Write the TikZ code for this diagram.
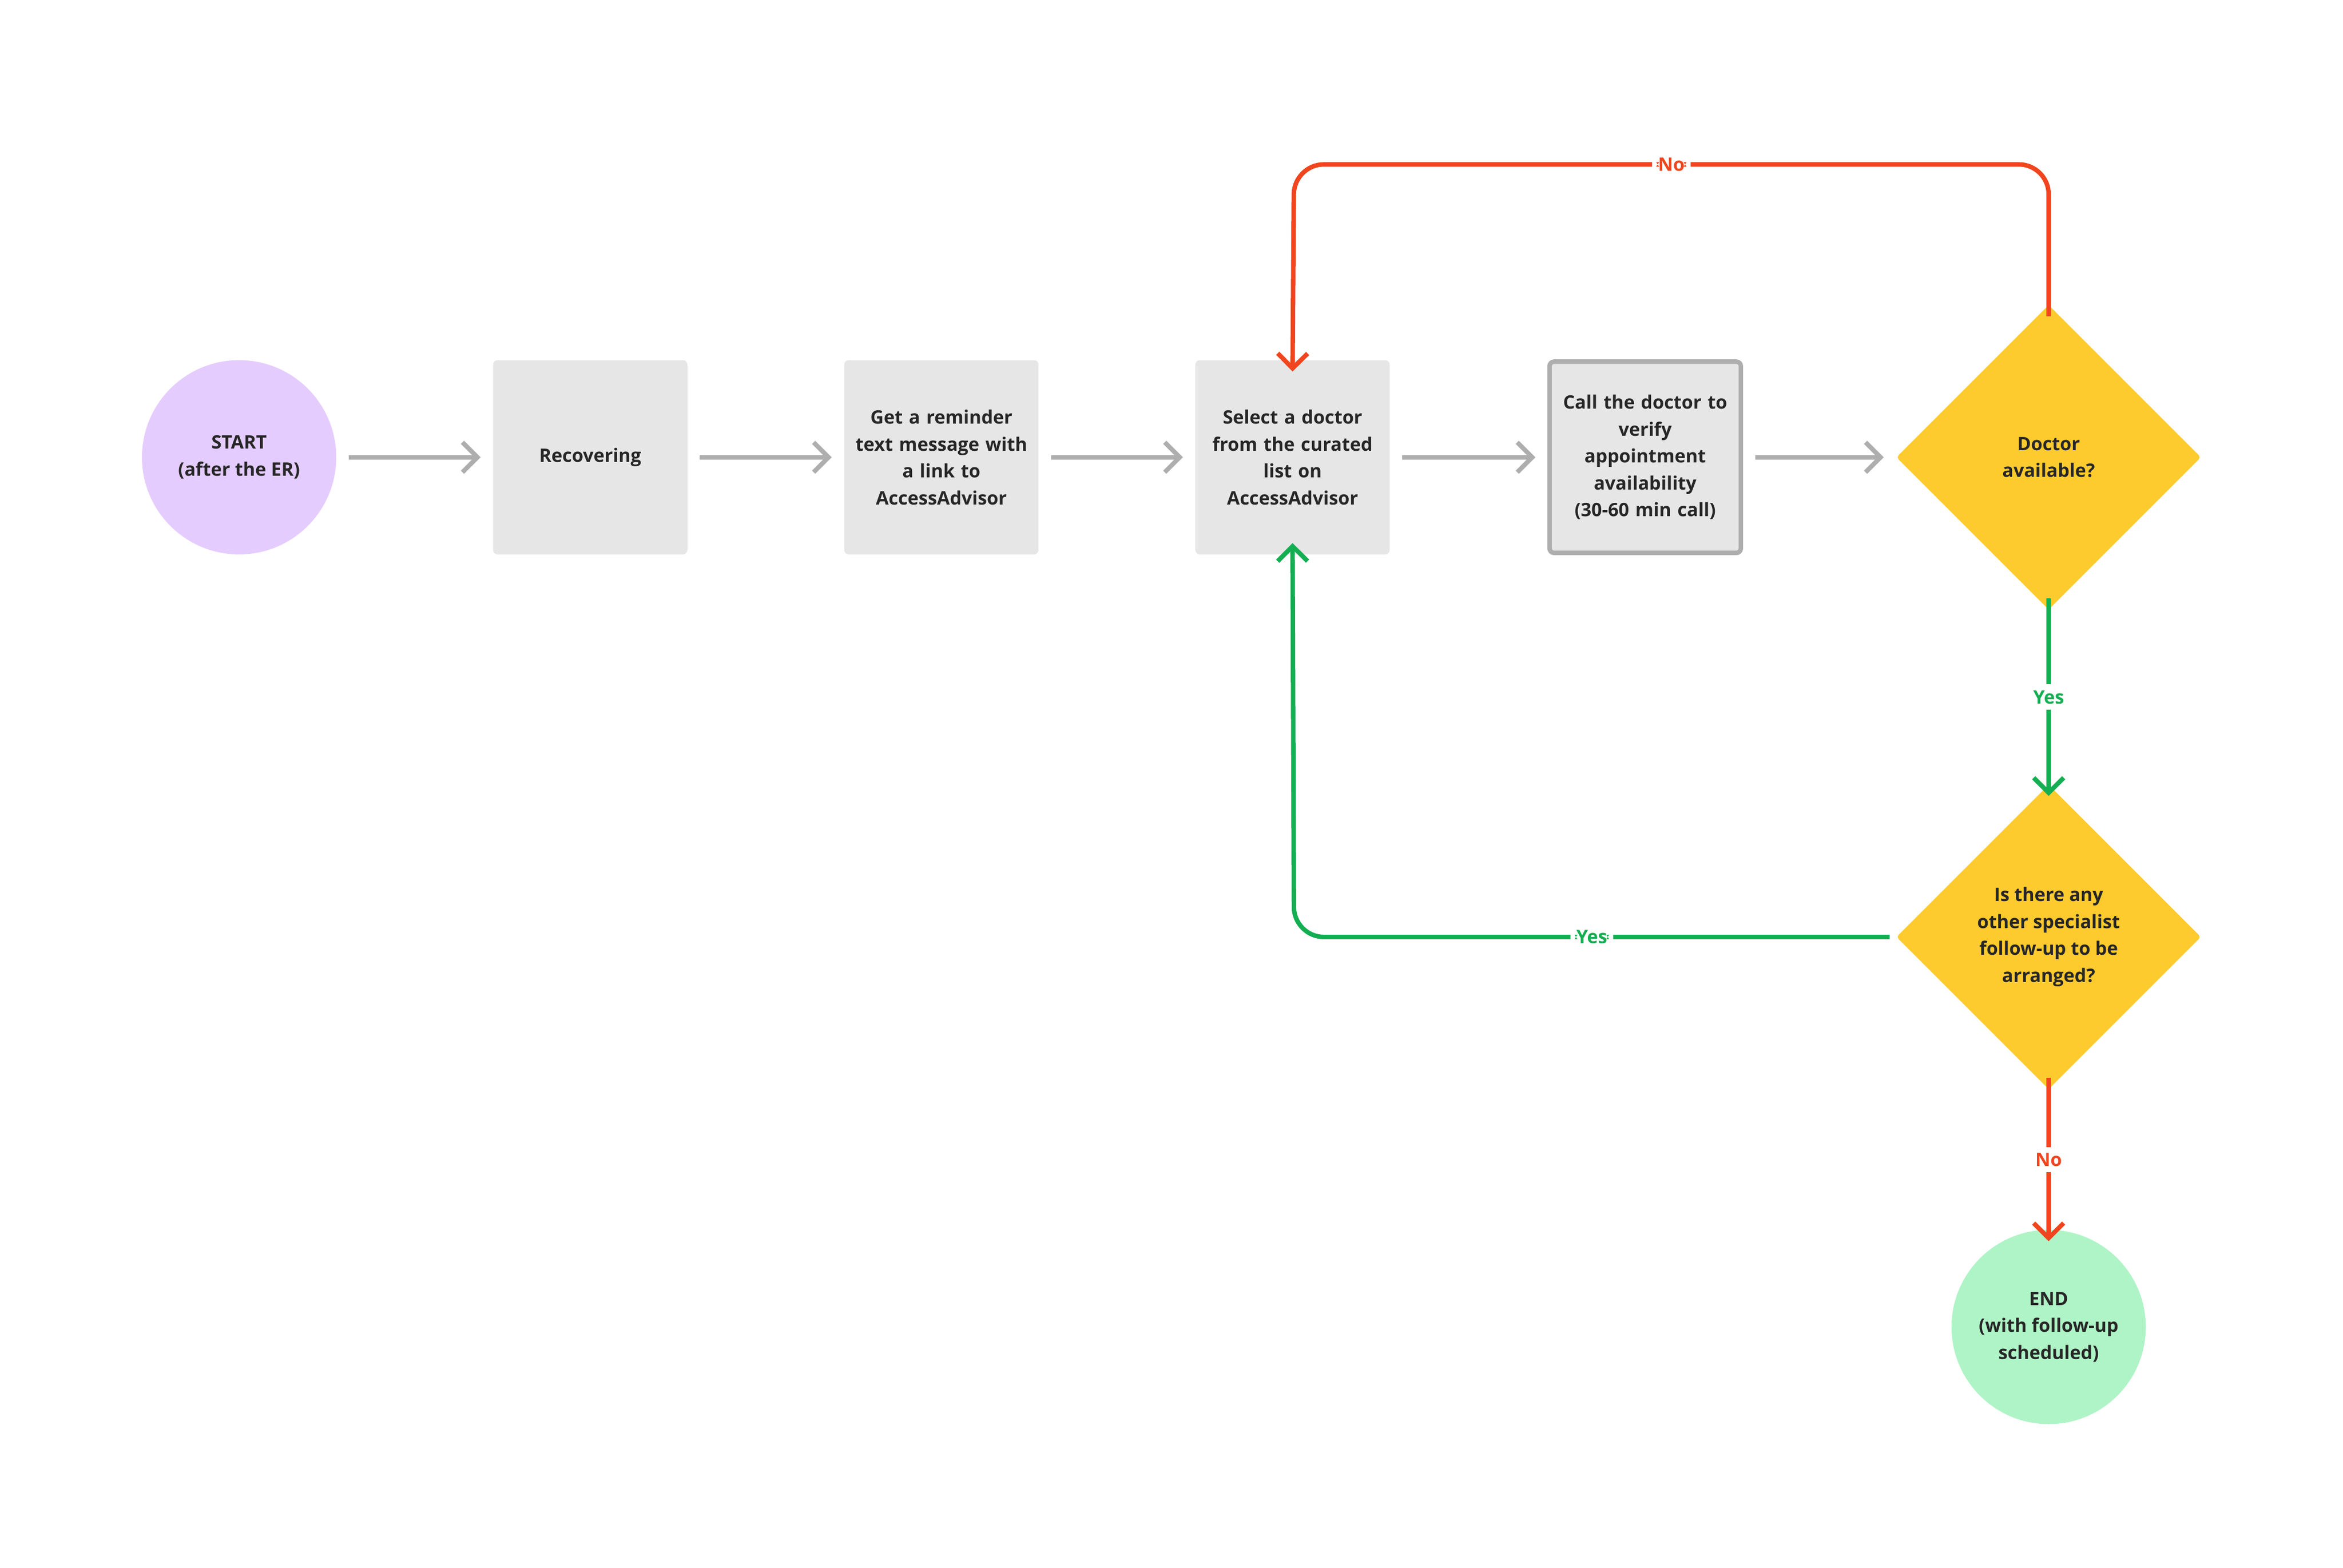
\documentclass[tikz,border=0pt]{standalone}
\usepackage{fontspec}
\setmainfont{Open Sans}
\usetikzlibrary{arrows.meta,shapes.geometric}
\definecolor{boxg}{HTML}{E6E6E6}
\definecolor{lineg}{HTML}{AEAEAE}
\definecolor{redl}{HTML}{F0451E}
\definecolor{greenl}{HTML}{14AE52}
\definecolor{yel}{HTML}{FDCB2E}
\definecolor{lav}{HTML}{E5CCFF}
\definecolor{mint}{HTML}{AFF4C6}
\begin{document}
\begin{tikzpicture}[x=0.5pt,y=-0.5pt,
  txt/.style={font=\bfseries\fontsize{6.2}{9}\selectfont,align=center,text=black!85},
  stepbox/.style={txt,fill=boxg,rounded corners=1.5pt,minimum width=65pt,minimum height=65pt,text width=58pt,inner sep=0pt},
  circ/.style={txt,circle,minimum size=65pt,inner sep=0pt},
  dia/.style={txt,diamond,fill=yel,minimum width=102pt,minimum height=102pt,inner sep=0pt,rounded corners=1pt},
  arr/.style={line width=1.5pt,-{Straight Barb[length=5pt,width=10pt,line width=1.5pt]}},
  lab/.style={font=\bfseries\fontsize{6.2}{8}\selectfont,fill=white,inner sep=2pt}]
\useasboundingbox (0,0) rectangle (1568,1049);
\node[circ,fill=lav] (start) at (160,306) {START\\(after the ER)};
\node[stepbox] (rec) at (395,306) {Recovering};
\node[stepbox] (rem) at (630,306) {Get a reminder\\text message with\\a link to\\AccessAdvisor};
\node[stepbox] (sel) at (865,306) {Select a doctor\\from the curated\\list on\\AccessAdvisor};
\node[stepbox,draw=lineg,line width=1.5pt,minimum width=64pt,minimum height=64pt] (call) at (1101,306) {Call the doctor to\\verify\\appointment\\availability\\(30-60 min call)};
\node[dia] (d1) at (1371,306) {Doctor\\available?};
\node[dia] (d2) at (1371,627) {Is there any\\other specialist\\follow-up to be\\arranged?};
\node[circ,fill=mint] (end) at (1371,888) {END\\(with follow-up\\scheduled)};
\begin{scope}[lineg]
\draw[arr] ([xshift=4]start.east) -- ([xshift=-4]rec.west);
\draw[arr] ([xshift=4]rec.east) -- ([xshift=-4]rem.west);
\draw[arr] ([xshift=4]rem.east) -- ([xshift=-4]sel.west);
\draw[arr] ([xshift=4]sel.east) -- ([xshift=-4]call.west);
\draw[arr] ([xshift=4]call.east) -- ([xshift=-4]d1.west);
\end{scope}
\draw[arr,redl,rounded corners=10pt] ([yshift=-4]d1.north) -- (1371,110) -- node[lab,pos=0.5,text=redl]{No} (866,110) -- ([yshift=-4]sel.north);
\draw[arr,greenl] ([yshift=4]d1.south) -- node[lab,text=greenl]{Yes} ([yshift=-4]d2.north);
\draw[arr,greenl,rounded corners=10pt] ([xshift=-2]d2.west) -- node[lab,pos=0.5,text=greenl]{Yes} (866,627) -- ([yshift=4]sel.south);
\draw[arr,redl] ([yshift=4]d2.south) -- node[lab,text=redl]{No} ([yshift=-4]end.north);
\end{tikzpicture}
\end{document}
